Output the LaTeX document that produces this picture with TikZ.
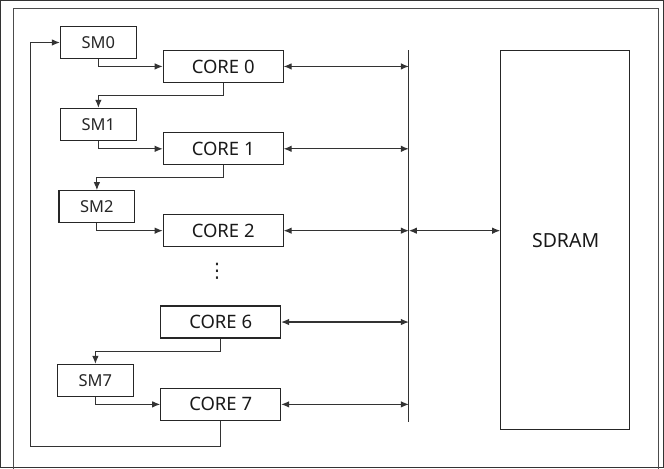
\documentclass[tikz,border=0pt]{standalone}
\usepackage{fontspec}
\setmainfont{Noto Sans}
\newfontfamily\symfont{DejaVu Sans}
\usetikzlibrary{arrows.meta}
\begin{document}
\begin{tikzpicture}[x=1pt,y=-1pt,
  line width=1.1pt,
  every path/.style={draw=black!80},
  smbox/.style={draw=black!85,line width=1.1pt,minimum width=76pt,minimum height=32pt,inner sep=0pt,font=\fontsize{16.5}{18}\selectfont,text=black!85},
  corebox/.style={draw=black!85,line width=1.1pt,minimum width=120pt,minimum height=32pt,inner sep=0pt,font=\fontsize{18.5}{20}\selectfont,text=black!90},
  arr/.style={-{Latex[length=8pt,width=6.5pt]}},
  barr/.style={{Latex[length=8pt,width=6.5pt]}-{Latex[length=8pt,width=6.5pt]}}
]
\useasboundingbox (0,0) rectangle (664,468);
\draw[black!70] (13,480) -- (13,8) -- (659,8) -- (659,480);

\node[smbox] (sm0) at (98,42) {SM0};
\node[smbox] (sm1) at (98,124) {SM1};
\node[smbox] (sm2) at (96.5,206.5) {SM2};
\node[smbox] (sm7) at (95,380.5) {SM7};

\node[corebox] (c0) at (223,66) {CORE 0};
\node[corebox] (c1) at (223,148.5) {CORE 1};
\node[corebox] (c2) at (223,230.5) {CORE 2};
\node[corebox] (c6) at (220.5,322) {CORE 6};
\node[corebox] (c7) at (220.5,404.5) {CORE 7};

\node[font=\symfont\fontsize{20}{22}\selectfont,text=black!85,inner sep=0pt] (dots) at (217,271) {⋮};

\node[draw=black!85,line width=1.1pt,minimum width=129pt,minimum height=380pt,inner sep=0pt] (sdram) at (565.5,240) {};
\node[font=\fontsize{19.5}{21}\selectfont,text=black!90] (sdramlabel) at (566,240) {SDRAM};

\coordinate (bustop) at (409,50);
\coordinate (busbot) at (409,422);
\draw (bustop) -- (busbot);

% SM -> CORE
\draw[arr] (sm0.south) |- (c0.west);
\draw[arr] (sm1.south) |- (c1.west);
\draw[arr] (sm2.south) |- (c2.west);
\draw[arr] (sm7.south) |- (c7.west);

% CORE -> next SM
\draw[arr] (c0.south) -- ++(0,13) -| (sm1.north);
\draw[arr] (c1.south) -- ++(0,12) -| (sm2.north);
\draw[arr] (c6.south) -- ++(0,13) -| (sm7.north);

% loop back
\coordinate (loopl) at (30,447);
\draw[arr] (c7.south) |- (loopl) |- (sm0.west);

% bus connections
\foreach \c in {c0,c1,c2,c6,c7}{
  \draw[barr] (\c.east) -- (\c.east -| bustop);
}
\draw[barr] (c2.east -| bustop) -- (c2.east -| sdram.west);
\end{tikzpicture}
\end{document}
